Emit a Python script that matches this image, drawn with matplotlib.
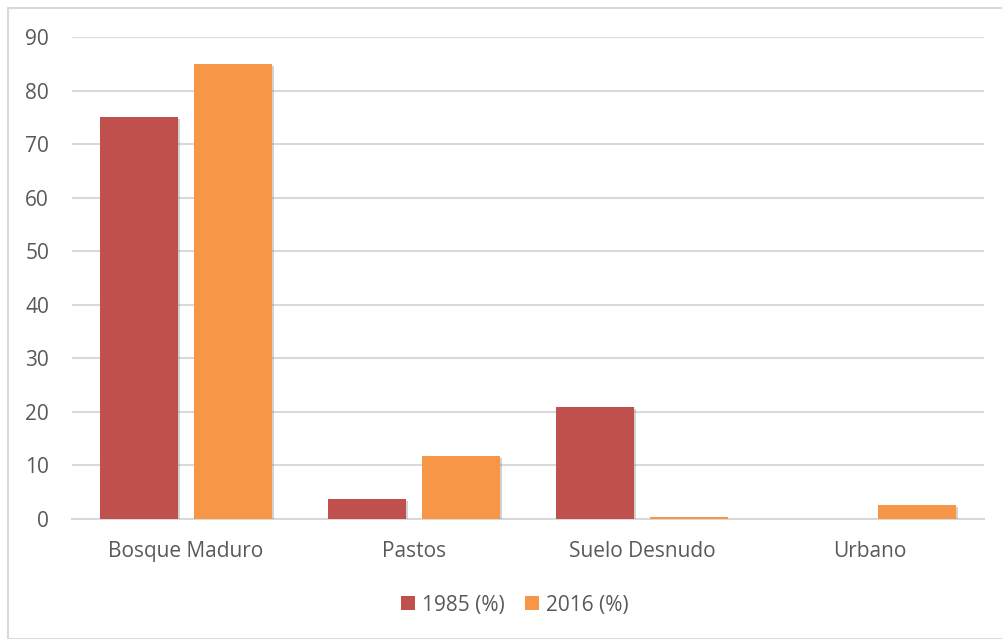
import matplotlib
matplotlib.use("Agg")
import matplotlib.pyplot as plt
import matplotlib.patheffects as pe
from matplotlib.patches import Rectangle
import numpy as np

categories = ["Bosque Maduro", "Pastos", "Suelo Desnudo", "Urbano"]
series_names = ["1985 (%)", "2016 (%)"]
vals_1985 = [75, 3.7, 20.9, 0]
vals_2016 = [85, 11.8, 0.3, 2.6]
yticks = [0, 10, 20, 30, 40, 50, 60, 70, 80, 90]

RED = "#c0504d"
ORANGE = "#f79646"
GRID = "#d9d9d9"
TXT = "#595959"

plt.rcParams["font.family"] = ["Open Sans", "DejaVu Sans"]

fig = plt.figure(figsize=(10.02, 6.39), dpi=100)
ax = fig.add_axes([72 / 1002, 1 - 519 / 639, (984 - 72) / 1002, (519 - 37) / 639])

x = np.arange(len(categories))
w = 0.34
off = 0.207
shadow = [pe.SimplePatchShadow(offset=(1.5, -1.5), shadow_rgbFace="#808080", alpha=0.35), pe.Normal()]
b1 = ax.bar(x - off, vals_1985, w, color=RED, label=series_names[0], zorder=3)
b2 = ax.bar(x + off, vals_2016, w, color=ORANGE, label=series_names[1], zorder=3)
for b in list(b1) + list(b2):
    b.set_path_effects(shadow)

ax.set_xlim(-0.5, 3.5)
ax.set_ylim(0, 90)
ax.set_yticks(yticks)
ax.set_xticks(x)
ax.set_xticklabels(categories)
ax.yaxis.grid(True, color=GRID, linewidth=1.5, zorder=0)
ax.set_axisbelow(True)
for s in ["top", "right", "left"]:
    ax.spines[s].set_visible(False)
ax.spines["bottom"].set_color(GRID)
ax.spines["bottom"].set_linewidth(1.5)
ax.tick_params(axis="both", length=0, labelsize=15, colors=TXT)
ax.tick_params(axis="y", pad=16.5)
ax.tick_params(axis="x", pad=16)

leg = fig.legend(handles=[b1, b2], labels=series_names, loc="center",
                 bbox_to_anchor=(515 / 1002, 1 - 605 / 639), ncol=2, frameon=False,
                 fontsize=15, handlelength=0.65, handleheight=0.65, handletextpad=0.35,
                 columnspacing=1.0)
for t in leg.get_texts():
    t.set_color(TXT)
for h in leg.legend_handles:
    h.set_path_effects([])

fig.patches.append(Rectangle((8 / 1002, 0), 1, 1 - 8 / 639, transform=fig.transFigure,
                             fill=False, edgecolor=GRID, linewidth=1.5))

fig.savefig("out.png", dpi=100)
